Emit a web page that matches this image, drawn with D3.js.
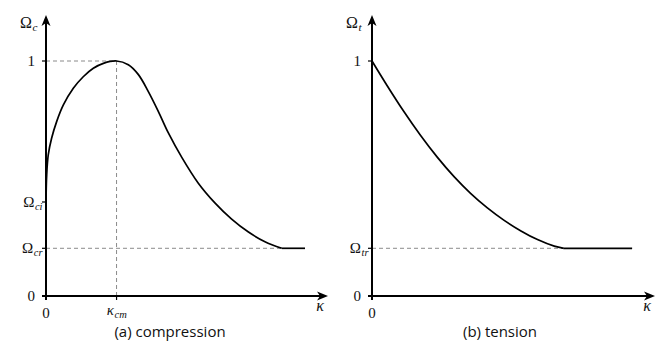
<!DOCTYPE html>
<html><head><meta charset="utf-8">
<script src="https://cdn.jsdelivr.net/npm/d3@7"></script>
</head><body style="margin:0">
<svg id="c" width="672" height="358"></svg>
<script>
// ---- data (κ in arbitrary units 0..10, Ω normalised 0..1) ----
const compressionCurve = [
  [0,0.401],[0.025,0.515],[0.08,0.600],[0.20,0.671],[0.38,0.742],[0.62,0.813],[0.975,0.884],
  [1.33,0.933],[1.69,0.969],[2.05,0.990],[2.52,1.0],[2.94,0.984],[3.30,0.942],[3.65,0.871],
  [4.01,0.786],[4.37,0.694],[4.85,0.590],[5.44,0.480],[6.04,0.395],[6.63,0.327],[7.23,0.272],
  [7.82,0.231],[8.42,0.203]
];
const compressionPlateau = [[8.42,0.203],[9.25,0.203]];
const tensionCurve = [
  [0,1.0],[0.52,0.899],[1.12,0.788],[1.73,0.684],[2.33,0.591],[2.93,0.508],[3.52,0.437],
  [4.12,0.375],[4.72,0.322],[5.32,0.277],[5.91,0.240],[6.51,0.212],[6.85,0.203]
];
const tensionPlateau = [[6.85,0.203],[9.29,0.203]];
const kappaCm = 2.52;
const omegaCi = 0.400, omegaCr = 0.203, omegaTr = 0.203;
const compressionYTicks = [{v:0,base:"0",sub:""},{v:omegaCi,base:"Ω",sub:"ci"},{v:omegaCr,base:"Ω",sub:"cr"},{v:1,base:"1",sub:""}];
const tensionYTicks = [{v:0,base:"0",sub:""},{v:omegaTr,base:"Ω",sub:"tr"},{v:1,base:"1",sub:""}];
const compressionXTicks = [{v:0,base:"0",sub:""},{v:kappaCm,base:"κ",sub:"cm"}];
const tensionXTicks = [{v:0,base:"0",sub:""}];

const svg = d3.select("#c");
const SERIF = '"Liberation Serif"';
// serif text helper: base text plus optional italic subscript as separate text elements
function label(x, y, base, sub, size, anchor, italicBase){
  const t = svg.append("text").style("font-family", SERIF).attr("font-size", size)
    .attr("fill","#111").attr("y", y).text(base);
  if(italicBase) t.attr("font-style","italic");
  const bw = t.node().getComputedTextLength();
  let sw = 0, s = null;
  if(sub){
    s = svg.append("text").style("font-family", SERIF).attr("font-size", size*0.7)
      .attr("font-style","italic").attr("fill","#111").attr("y", y+3).text(sub);
    sw = s.node().getComputedTextLength();
  }
  const total = bw + sw;
  const left = anchor==="end" ? x-total : anchor==="middle" ? x-total/2 : x;
  t.attr("x", left);
  if(s) s.attr("x", left+bw+0.5);
}

function panel(opt){
  const x = d3.scaleLinear().domain([0,10]).range([opt.x0, opt.x0+280]);
  const y = d3.scaleLinear().domain([0,1]).range([296,61]);
  const g = svg.append("g");
  const dash = (x1,y1,x2,y2)=>g.append("line").attr("x1",x1).attr("y1",y1).attr("x2",x2).attr("y2",y2)
      .attr("stroke","#8a8a8a").attr("stroke-width",1).attr("stroke-dasharray","4,3");
  opt.dashes(dash,x,y);

  const ax = x(0), ay = y(0);
  g.append("line").attr("x1",ax).attr("x2",ax).attr("y1",ay+4).attr("y2",19).attr("stroke","#000").attr("stroke-width",2);
  g.append("line").attr("x1",ax-4).attr("x2",opt.xTip-4).attr("y1",ay).attr("y2",ay).attr("stroke","#000").attr("stroke-width",2);
  const head = "M0,0 L-11,-4.5 L-8,0 L-11,4.5 Z";
  g.append("path").attr("d",head).attr("transform",`translate(${opt.xTip},${ay})`).attr("fill","#000");
  g.append("path").attr("d",head).attr("transform",`translate(${ax},15) rotate(-90)`).attr("fill","#000");

  opt.yTicks.forEach(t=>{
    g.append("line").attr("x1",ax-4).attr("x2",ax).attr("y1",y(t.v)).attr("y2",y(t.v)).attr("stroke","#000").attr("stroke-width",1.2);
    label(ax-(t.sub?4:11), y(t.v)+5, t.base, t.sub, 15, "end", false);
  });
  opt.xTicks.forEach(t=>{
    g.append("line").attr("x1",x(t.v)).attr("x2",x(t.v)).attr("y1",ay).attr("y2",ay+4).attr("stroke","#000").attr("stroke-width",1.2);
    label(x(t.v), ay+(t.sub?19:22), t.base, t.sub, 15, "middle", !!t.sub);
  });
  label(ax-26, 28, "Ω", opt.ySub, 16, "start", false);
  label(opt.xTip-8, ay+15, "κ", "", 16, "middle", true);

  const line = d3.line().x(d=>x(d[0])).y(d=>y(d[1])).curve(d3.curveCatmullRom.alpha(0.5));
  g.append("path").datum(opt.curve).attr("d",line).attr("fill","none").attr("stroke","#000").attr("stroke-width",1.7);
  g.append("path").datum(opt.plateau).attr("d",d3.line().x(d=>x(d[0])).y(d=>y(d[1])))
    .attr("fill","none").attr("stroke","#000").attr("stroke-width",1.7);

  svg.append("text").style("font-family",'"Open Sans"').attr("x",opt.capX).attr("y",337).attr("text-anchor","middle")
    .attr("font-size",15).attr("fill","#111").text(opt.caption);
}

panel({x0:46, xTip:328, curve:compressionCurve, plateau:compressionPlateau, yTicks:compressionYTicks, xTicks:compressionXTicks,
  ySub:"c", caption:"(a) compression", capX:170,
  dashes:(dash,x,y)=>{ dash(x(0),y(1),x(kappaCm),y(1)); dash(x(kappaCm),y(1),x(kappaCm),y(0)); dash(x(0),y(omegaCr),x(compressionPlateau[0][0]),y(omegaCr)); }});
panel({x0:372, xTip:655, curve:tensionCurve, plateau:tensionPlateau, yTicks:tensionYTicks, xTicks:tensionXTicks,
  ySub:"t", caption:"(b) tension", capX:500,
  dashes:(dash,x,y)=>{ dash(x(0),y(omegaTr),x(tensionPlateau[0][0]),y(omegaTr)); }});
</script>
</body></html>
